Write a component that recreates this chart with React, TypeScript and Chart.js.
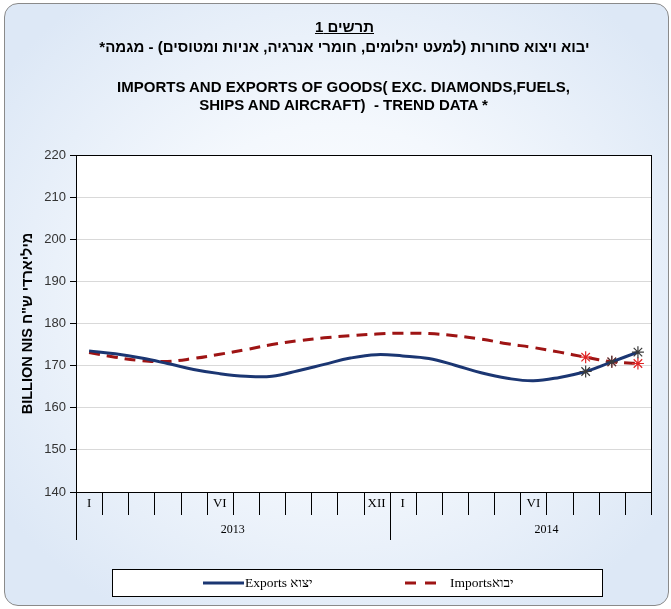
import React, { useEffect, useRef } from "react";
import { Chart, registerables } from "chart.js";

Chart.register(...registerables);

const monthLabels = ["I", "", "", "", "", "VI", "", "", "", "", "", "XII", "I", "", "", "", "", "VI", "", "", "", ""];
const yearLabels = ["2013", "2014"];
const exportsValues = [173.5, 172.8, 171.8, 170.5, 169.1, 168.1, 167.5, 167.5, 168.8, 170.3, 171.8, 172.6, 172.3, 171.7, 170.1, 168.3, 167.0, 166.4, 167.2, 168.6, 170.9, 173.2];
const importsValues = [173.1, 172.0, 171.2, 171.0, 171.7, 172.7, 173.8, 175.0, 175.9, 176.6, 177.1, 177.5, 177.7, 177.6, 177.1, 176.3, 175.2, 174.3, 173.2, 172.0, 170.9, 170.5];
const exportsName = "Exports יצוא";
const importsName = "Importsיבוא";
const yMin = 140;
const yMax = 220;
const yStep = 10;
const markedFrom = 19;

const EXP_COLOR = "#1b3672";
const IMP_COLOR = "#9e1414";
const SERIF = "'Liberation Serif', 'DejaVu Serif', serif";

const customPlugin = {
  id: "customDecor",
  beforeDraw(chart: any) {
    const { ctx, chartArea } = chart;
    ctx.save();
    ctx.fillStyle = "#ffffff";
    ctx.fillRect(chartArea.left, chartArea.top, chartArea.right - chartArea.left, chartArea.bottom - chartArea.top);
    ctx.restore();
  },
  afterDraw(chart: any) {
    const { ctx, chartArea } = chart;
    const xs = chart.scales.x;
    const n = monthLabels.length;
    const { left, right, top, bottom } = chartArea;
    ctx.save();
    ctx.strokeStyle = "#000";
    ctx.lineWidth = 1;
    ctx.strokeRect(Math.round(left) + 0.5, Math.round(top) + 0.5, Math.round(right - left), Math.round(bottom - top));
    const centers = monthLabels.map((_, i) => xs.getPixelForValue(i));
    const step = centers[1] - centers[0];
    const bounds: number[] = [];
    for (let i = 0; i <= n; i++) bounds.push(centers[0] - step / 2 + i * step);
    ctx.beginPath();
    for (let i = 0; i <= n; i++) {
      const x = Math.round(bounds[i]) + 0.5;
      const long = i === 0 || i === 12;
      ctx.moveTo(x, bottom);
      ctx.lineTo(x, bottom + (long ? 48 : 23));
    }
    ctx.stroke();
    ctx.fillStyle = "#000";
    ctx.font = "13px " + SERIF;
    ctx.textAlign = "center";
    ctx.textBaseline = "middle";
    monthLabels.forEach((lab, i) => {
      if (lab) ctx.fillText(lab, centers[i], bottom + 12);
    });
    ctx.font = "12px " + SERIF;
    ctx.fillText(yearLabels[0], bounds[0] + 6 * step, bottom + 38);
    ctx.fillText(yearLabels[1], bounds[12] + 6 * step, bottom + 38);

    // legend
    const lx = 112.5, ly = 569.5, lw = 490, lh = 27;
    ctx.fillStyle = "#fff";
    ctx.fillRect(lx, ly, lw, lh);
    ctx.strokeStyle = "#000";
    ctx.lineWidth = 1;
    ctx.strokeRect(lx, ly, lw, lh);
    const cy = ly + lh / 2;
    ctx.lineWidth = 3;
    ctx.strokeStyle = EXP_COLOR;
    ctx.beginPath();
    ctx.moveTo(203, cy);
    ctx.lineTo(244, cy);
    ctx.stroke();
    ctx.strokeStyle = IMP_COLOR;
    ctx.beginPath();
    ctx.moveTo(405, cy);
    ctx.lineTo(416, cy);
    ctx.moveTo(425, cy);
    ctx.lineTo(436, cy);
    ctx.stroke();
    ctx.fillStyle = "#000";
    ctx.font = "13.5px " + SERIF;
    ctx.textAlign = "left";
    ctx.fillText(exportsName, 245, cy);
    ctx.fillText(importsName, 450, cy);
    ctx.restore();
  },
};

function ChartCanvas() {
  const ref = useRef<HTMLCanvasElement | null>(null);
  useEffect(() => {
    if (!ref.current) return;
    const chart = new Chart(ref.current, {
      type: "line",
      data: {
        labels: monthLabels.map((m, i) => String(i)),
        datasets: [
          {
            label: exportsName,
            data: exportsValues,
            borderColor: EXP_COLOR,
            backgroundColor: EXP_COLOR,
            borderWidth: 3,
            tension: 0.4,
            pointStyle: "star",
            pointRadius: exportsValues.map((_, i) => (i >= markedFrom ? 6 : 0)),
            pointBorderColor: "#3a3a3a",
            pointBorderWidth: 1.2,
            fill: false,
          },
          {
            label: importsName,
            data: importsValues,
            borderColor: IMP_COLOR,
            backgroundColor: IMP_COLOR,
            borderWidth: 3,
            borderDash: [11, 7],
            tension: 0.4,
            pointStyle: "star",
            pointRadius: importsValues.map((_, i) => (i >= markedFrom ? 6 : 0)),
            pointBorderColor: "#e02424",
            pointBorderWidth: 1.2,
            fill: false,
          },
        ],
      },
      options: {
        responsive: false,
        animation: false,
        layout: { padding: { left: 19, top: 155, right: 20, bottom: 117 } },
        plugins: {
          legend: { display: false },
          title: { display: false },
          tooltip: { enabled: false },
        },
        scales: {
          x: {
            type: "category",
            offset: true,
            display: false,
            grid: { display: false },
          },
          y: {
            min: yMin,
            max: yMax,
            afterFit: (scale: any) => {
              scale.width = 57;
            },
            ticks: {
              stepSize: yStep,
              color: "#333",
              font: { family: "'Liberation Sans', Arial, sans-serif", size: 13 },
              padding: 4,
            },
            grid: {
              color: "#d9d9d9",
              tickColor: "#000",
              tickLength: 6,
            },
            border: { color: "#000" },
            title: {
              display: true,
              text: "BILLION NIS מיליארדי ש\"ח",
              color: "#000",
              font: { family: "'Liberation Sans', Arial, sans-serif", size: 14.5, weight: "bold" },
              padding: { top: 0, bottom: 0 },
            },
          },
        },
      },
      plugins: [customPlugin],
    } as any);
    return () => chart.destroy();
  }, []);
  return <canvas ref={ref} width={671} height={609} style={{ position: "absolute", left: 0, top: 0 }} />;
}

export default function App() {
  const titleFont = "'Liberation Sans', Arial, sans-serif";
  return (
    <div style={{ position: "absolute", left: 0, top: 0, width: 671, height: 609, overflow: "hidden" }}>
      <div
        style={{
          position: "absolute",
          left: 4,
          top: 3,
          width: 665,
          height: 603,
          boxSizing: "border-box",
          border: "1.5px solid #8a8a8a",
          borderRadius: 14,
          background: "radial-gradient(ellipse 62% 62% at 50% 48%, #ffffff 0%, #f4f8fd 45%, #dde8f6 100%)",
        }}
      />
      <ChartCanvas />
      <div style={{ position: "absolute", left: 9, width: 671, top: 17, textAlign: "center", fontFamily: titleFont, fontWeight: "bold", fontSize: 15, lineHeight: "20px", color: "#000" }}>
        <div dir="rtl" style={{ textDecoration: "underline" }}>תרשים 1</div>
        <div dir="rtl">יבוא ויצוא סחורות (למעט יהלומים, חומרי אנרגיה, אניות ומטוסים) - מגמה*</div>
      </div>
      <div style={{ position: "absolute", left: 8, width: 671, top: 78, textAlign: "center", fontFamily: titleFont, fontWeight: "bold", fontSize: 15, lineHeight: "18px", color: "#000" }}>
        <div>IMPORTS AND EXPORTS OF GOODS( EXC. DIAMONDS,FUELS,</div>
        <div>SHIPS AND AIRCRAFT)&nbsp; - TREND DATA *</div>
      </div>
    </div>
  );
}
